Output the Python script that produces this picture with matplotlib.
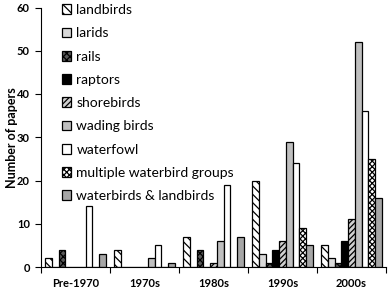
import numpy as np
import matplotlib
matplotlib.use("Agg")
import matplotlib.pyplot as plt

plt.rcParams["font.family"] = ["Lato", "DejaVu Sans"]
plt.rcParams["hatch.linewidth"] = 0.9

# decades on the x axis
decades = ["Pre-1970", "1970s", "1980s", "1990s", "2000s"]

# number of papers per bird group
landbirds = [2, 4, 7, 20, 5]
larids = [0, 0, 0, 3, 2]
rails = [4, 0, 4, 1, 1]
raptors = [0, 0, 0, 4, 6]
shorebirds = [0, 0, 1, 6, 11]
wading_birds = [0, 2, 6, 29, 52]
waterfowl = [14, 5, 19, 24, 36]
multiple_groups = [0, 0, 0, 9, 25]
water_and_land = [3, 1, 7, 5, 16]

series = [
    ("landbirds", landbirds, "white", "\\\\\\\\"),
    ("larids", larids, "#d9d9d9", None),
    ("rails", rails, "#595959", "xxxxx"),
    ("raptors", raptors, "black", None),
    ("shorebirds", shorebirds, "#d0d0d0", "//////"),
    ("wading birds", wading_birds, "#bfbfbf", None),
    ("waterfowl", waterfowl, "white", None),
    ("multiple waterbird groups", multiple_groups, "white", "xxxxxx"),
    ("waterbirds & landbirds", water_and_land, "#a6a6a6", None),
]

fig = plt.figure(figsize=(3.88, 2.89), dpi=100)
ax = fig.add_axes([41 / 388, 22 / 289, 345 / 388, 259.5 / 289])

x = np.arange(len(decades))
n = len(series)
w = 0.097
for i, (name, vals, color, hatch) in enumerate(series):
    ax.bar(x + (i - (n - 1) / 2) * w, vals, width=w, color=color,
           edgecolor="black", linewidth=0.9, hatch=hatch, label=name)

ax.set_xlim(-0.5, len(decades) - 0.5)
ax.set_ylim(0, 60)
ax.set_yticks(range(0, 61, 10))
ax.set_xticks(np.arange(-0.5, len(decades)), [])
ax.set_xticks(x, decades, minor=True)
ax.tick_params(axis="x", which="minor", length=0, pad=8)
ax.tick_params(axis="x", which="major", length=4, direction="out")
ax.tick_params(axis="y", length=4, direction="out", pad=4)
for lbl in ax.get_xticklabels(minor=True) + ax.get_yticklabels():
    lbl.set_fontweight("bold")
    lbl.set_fontsize(8)

ax.spines["top"].set_visible(False)
ax.spines["right"].set_visible(False)
ax.set_ylabel("Number of papers", fontweight="bold", fontsize=9)
ax.yaxis.set_label_coords(-0.068, 0.5)

ax.legend(loc="upper left", bbox_to_anchor=(0.04, 1.04), frameon=False,
          fontsize=10, handlelength=0.7, handleheight=0.7,
          handletextpad=0.35, labelspacing=0.81, borderpad=0)

fig.savefig("out.png", dpi=100)
